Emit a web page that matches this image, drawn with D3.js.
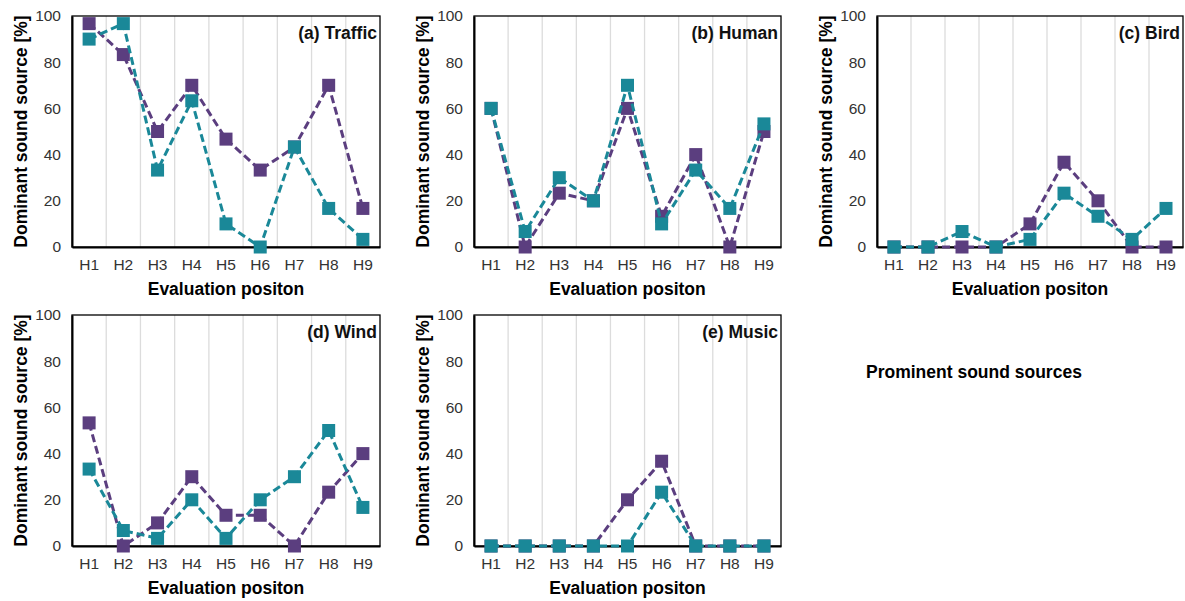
<!DOCTYPE html>
<html>
<head>
<meta charset="utf-8">
<script src="https://cdn.jsdelivr.net/npm/d3@7"></script>
<style>
  html, body { margin: 0; padding: 0; background: #fff; }
  svg { display: block; }
  text { font-family: "Liberation Sans", Arial, sans-serif; }
</style>
</head>
<body>
<svg id="chart" width="1185" height="601"></svg>
<script>
// ---- data ----
const positions = ["H1", "H2", "H3", "H4", "H5", "H6", "H7", "H8", "H9"];
const yTicks = [0, 20, 40, 60, 80, 100];
const panelTitles = ["(a) Traffic", "(b) Human", "(c) Bird", "(d) Wind", "(e) Music"];
const seriesNames = ["Series 1", "Series 2"];

// purple series (Series 1)
const trafficS1 = [96.7, 83.3, 50, 70, 46.7, 33.3, 43.3, 70, 16.7];
const humanS1   = [60, 0, 23.3, 20, 60, 13.3, 40, 0, 50];
const birdS1    = [0, 0, 0, 0, 10, 36.7, 20, 0, 0];
const windS1    = [53.3, 0, 10, 30, 13.3, 13.3, 0, 23.3, 40];
const musicS1   = [0, 0, 0, 0, 20, 36.7, 0, 0, 0];

// teal series (Series 2)
const trafficS2 = [90, 96.7, 33.3, 63.3, 10, 0, 43.3, 16.7, 3.3];
const humanS2   = [60, 6.7, 30, 20, 70, 10, 33.3, 16.7, 53.3];
const birdS2    = [0, 0, 6.7, 0, 3.3, 23.3, 13.3, 3.3, 16.7];
const windS2    = [33.3, 6.7, 3.3, 20, 3.3, 20, 30, 50, 16.7];
const musicS2   = [0, 0, 0, 0, 0, 23.3, 0, 0, 0];

const legendTitle = "Prominent sound sources";
const yLabel = "Dominant sound source [%]";
const xLabel = "Evaluation positon";

// ---- layout ----
const colors = ["#5b3e7f", "#1a8898"];
const panelData = [
  [trafficS1, trafficS2],
  [humanS1, humanS2],
  [birdS1, birdS2],
  [windS1, windS2],
  [musicS1, musicS2]
];
const boxes = [
  {x0: 72,  x1: 380,  y0: 16,  y1: 247},
  {x0: 474, x1: 781,  y0: 16,  y1: 247},
  {x0: 877, x1: 1183, y0: 16,  y1: 247},
  {x0: 72,  x1: 380,  y0: 315, y1: 546},
  {x0: 474, x1: 781,  y0: 315, y1: 546}
];

const svg = d3.select("#chart");
const boldSize = 17.5;

boxes.forEach((b, i) => {
  const g = svg.append("g");
  const x = d3.scaleBand().domain(positions).range([b.x0, b.x1]).padding(0);
  const y = d3.scaleLinear().domain([0, 100]).range([b.y1, b.y0]);

  // vertical gridlines at category boundaries
  g.append("g").selectAll("line")
    .data(positions.slice(1))
    .join("line")
    .attr("x1", d => x(d)).attr("x2", d => x(d))
    .attr("y1", b.y0).attr("y2", b.y1)
    .attr("stroke", "#dcdcdc").attr("stroke-width", 1.3);

  // frame
  g.append("rect")
    .attr("x", b.x0).attr("y", b.y0)
    .attr("width", b.x1 - b.x0).attr("height", b.y1 - b.y0)
    .attr("fill", "none").attr("stroke", "#000").attr("stroke-width", 1.3);

  // y axis
  const ya = g.append("g")
    .attr("transform", `translate(${b.x0},0)`)
    .call(d3.axisLeft(y).tickValues(yTicks).tickSize(0).tickPadding(11));
  ya.select(".domain").attr("stroke", "#000").attr("stroke-width", 2);
  ya.selectAll("text").attr("font-size", 15.5).attr("fill", "#333")
    .attr("font-family", "Liberation Sans, Arial, sans-serif");

  // x axis
  const xa = g.append("g")
    .attr("transform", `translate(0,${b.y1})`)
    .call(d3.axisBottom(x).tickSize(0).tickPadding(12));
  xa.select(".domain").attr("stroke", "#000").attr("stroke-width", 2);
  xa.selectAll("text").attr("font-size", 15.5).attr("fill", "#333")
    .attr("font-family", "Liberation Sans, Arial, sans-serif");

  // axis titles
  g.append("text")
    .attr("transform", `translate(${b.x0 - 45},${(b.y0 + b.y1) / 2}) rotate(-90)`)
    .attr("text-anchor", "middle")
    .attr("font-size", boldSize).attr("font-weight", "bold")
    .text(yLabel);
  g.append("text")
    .attr("x", (b.x0 + b.x1) / 2).attr("y", b.y1 + 48)
    .attr("text-anchor", "middle")
    .attr("font-size", boldSize).attr("font-weight", "bold")
    .text(xLabel);

  // panel title
  g.append("text")
    .attr("x", b.x1 - 3).attr("y", b.y0 + 23)
    .attr("text-anchor", "end")
    .attr("font-size", boldSize).attr("font-weight", "bold").attr("fill", "#111")
    .text(panelTitles[i]);

  // series
  const cx = d => x(d) + x.bandwidth() / 2;
  panelData[i].forEach((vals, s) => {
    const pts = positions.map((p, k) => ({p, v: vals[k]}));
    const line = d3.line().x(d => cx(d.p)).y(d => y(d.v));
    g.append("path")
      .datum(pts)
      .attr("d", line)
      .attr("fill", "none")
      .attr("stroke", colors[s])
      .attr("stroke-width", 3)
      .attr("stroke-dasharray", "8,4");
    const m = 13;
    g.append("g").selectAll("rect")
      .data(pts)
      .join("rect")
      .attr("x", d => cx(d.p) - m / 2)
      .attr("y", d => y(d.v) - m / 2)
      .attr("width", m).attr("height", m)
      .attr("fill", colors[s]);
  });
});

// legend title
svg.append("text")
  .attr("x", 866).attr("y", 378)
  .attr("font-size", boldSize).attr("font-weight", "bold")
  .text(legendTitle);
</script>
</body>
</html>
